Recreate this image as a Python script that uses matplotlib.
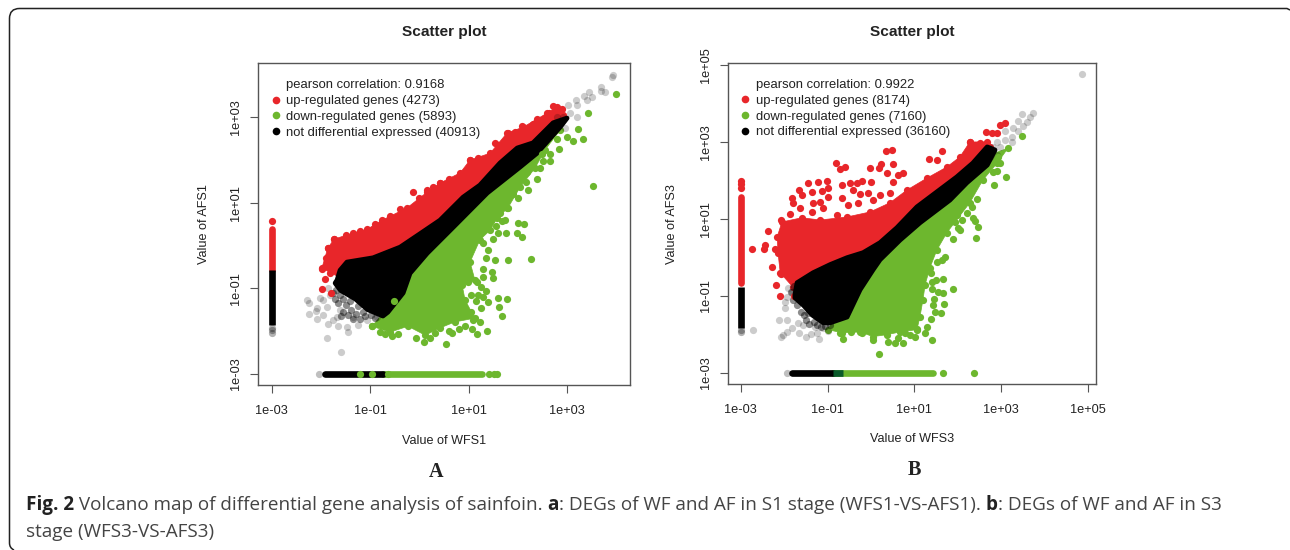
import matplotlib
matplotlib.use('Agg')
import matplotlib.pyplot as plt
import numpy as np
from matplotlib.lines import Line2D
from matplotlib.patches import PathPatch
from matplotlib.path import Path

RED = '#E8262A'
GREEN = '#6DB72E'
W, H = 1290, 550
DOT = 27

# everything below is log10 of the plotted value
# panel A
a_black_hull = [(3.00,2.98),(2.72,2.87),(2.31,2.40),(1.99,2.28),(1.64,1.93),(1.23,1.41),(0.89,1.13),(0.42,0.59),
    (0.01,0.27),(-0.39,-0.04),(-0.94,-0.29),(-1.47,-0.39),(-1.61,-0.58),(-1.67,-0.81),(-1.71,-0.88),(-1.60,-1.05),
    (-1.30,-1.25),(-1.05,-1.50),(-0.74,-1.65),(-0.64,-1.56),(-0.33,-1.11),(-0.19,-0.65),(0.16,-0.18),(0.69,0.43),
    (1.38,1.23),(2.05,1.84),(2.39,2.16),(2.86,2.77)]
a_red_hull = [(-1.98,-0.53),(-1.86,-0.06),(-1.73,0.15),(-1.35,0.29),(-1.06,0.38),(-0.76,0.59),(-0.25,0.88),(0.16,1.25),
    (0.42,1.46),(0.83,1.70),(1.03,2.00),(1.44,2.16),(1.78,2.63),(2.11,2.77),(2.60,3.10),(2.80,3.24),(2.92,3.05),
    (1.5,1.5),(0.0,0.0),(-1.0,-0.6),(-1.7,-0.7)]
a_green_hull = [(-0.96,-1.89),(-0.60,-2.03),(-0.23,-1.89),(0.12,-2.10),(0.42,-1.93),(0.72,-1.79),(1.13,-1.70),(0.93,-1.28),
    (0.87,-0.93),(1.13,-0.81),(1.03,-0.39),(1.23,0.13),(1.44,0.36),(1.58,0.64),(1.80,0.88),(2.05,1.37),(2.35,1.81),
    (2.55,2.23),(2.86,2.70),(2.0,2.0),(0.5,0.5),(-0.2,-0.6),(-0.6,-1.4)]
a_red_pts = [(-0.13,1.25),(0.16,1.30),(0.28,1.37),(0.42,1.46),(-1.86,-0.06),(-1.73,0.15),(-1.98,-0.55),(-1.92,-0.78),
    (-1.81,-0.64),(-1.98,-1.02),(-1.79,-1.11),(-1.04,-0.39),(-0.94,-0.37),(2.72,3.26),(2.90,3.19),(2.64,3.10),
    (2.39,2.96),(2.09,2.80),(2.25,2.70),(2.55,2.98),(1.80,2.63),(1.54,2.40),(1.03,2.00),(-1.5,0.25),(-1.2,0.35),
    (-0.9,0.5),(-0.6,0.7),(-0.4,0.85),(0.0,1.1),(0.6,1.55),(1.2,2.05),(1.6,2.35),(1.95,2.65),(2.3,2.85),(-1.9,-0.3)]
a_green_pts = [(-0.96,-1.89),(-0.80,-2.03),(-0.70,-2.07),(-0.55,-2.12),(-0.43,-2.07),(-0.07,-2.17),(0.10,-2.26),(0.22,-2.17),
    (0.32,-2.05),(0.54,-2.31),(0.66,-2.05),(0.93,-1.89),(1.07,-1.96),(1.17,-2.07),(1.38,-2.00),(1.23,-1.79),(1.68,-1.65),
    (1.62,-1.44),(1.25,-1.47),(1.40,-1.33),(1.60,-1.23),(1.78,-1.25),(1.36,-1.07),(1.25,-0.97),(1.50,-0.76),(1.29,-0.74),
    (1.48,-0.62),(1.54,-0.34),(1.80,-0.34),(2.27,-0.32),(1.76,0.29),(1.99,0.29),(2.09,0.20),(2.00,0.52),(2.13,0.50),
    (1.17,-0.86),(0.99,-0.86),(1.64,0.76),(1.78,0.88),(1.68,0.57),(2.39,1.56),(2.17,1.48),(2.19,1.72),(2.45,1.81),
    (2.51,1.98),(2.66,1.98),(2.66,2.14),(2.84,2.26),(2.49,2.14),(3.12,2.44),(3.33,2.49),(3.23,2.73),(3.00,2.54),
    (2.80,2.49),(3.43,3.10),(3.53,1.39),(4.00,3.55),(-0.51,-1.30),(1.05,-1.55),(1.15,-1.3),(1.2,-1.15),(1.05,-1.15),
    (1.3,-1.2),(1.3,-0.55),(1.35,-0.3),(1.4,-0.1),(1.3,0.05),(1.5,0.15),(1.55,0.45),(1.45,0.6),(1.7,1.05),(1.9,1.2),
    (2.0,1.1),(1.85,1.35),(2.2,1.3),(1.75,0.6),(1.6,0.3),(1.1,-1.75),(0.8,-1.95),(0.6,-2.0)]
a_grey_pts = [(-2.28,-1.28),(-2.24,-1.35),(-2.08,-1.47),(-2.10,-1.54),(-2.24,-1.61),(-2.08,-1.72),(-1.88,-2.17),(-1.59,-2.50),
    (-1.86,-1.84),(-1.65,-1.89),(-1.45,-2.03),(-1.47,-1.91),(-1.25,-1.86),(-1.96,-1.63),(-1.75,-1.75),(-2.02,-1.23),
    (-1.96,-1.28),(-1.86,-1.00),(-1.67,-1.68),(-1.35,-1.68),(-1.06,-1.75),(-0.86,-1.68),(-1.88,-1.44),(-1.61,-1.51),
    (-1.81,-1.16),(3.94,3.99),(3.92,3.94),(3.69,3.71),(3.77,3.59),(3.69,3.62),(3.45,3.59),(3.35,3.50),(3.51,3.48),
    (3.41,3.41),(3.18,3.41),(3.21,3.29),(3.02,3.29),(3.21,3.01),(2.92,3.01),(3.06,3.10),(2.80,3.01),(2.96,2.76)]
a_dark_pts = [(-1.70,-1.05),(-1.62,-1.15),(-1.55,-1.25),(-1.72,-1.25),(-1.65,-1.35),(-1.50,-1.40),(-1.40,-1.30),(-1.38,-1.50),
    (-1.25,-1.42),(-1.28,-1.60),(-1.15,-1.55),(-1.10,-1.65),(-0.98,-1.62),(-0.90,-1.70),(-1.55,-1.55),(-1.45,-1.62),
    (-1.75,-1.12),(-1.20,-1.72),(-1.35,-1.72),(-1.60,-1.65)]
a_red_strip = (-0.58,0.38)
a_red_strip_pts = [0.57]
a_black_strip = (-0.58,-1.86)
a_black_strip_fade = [-1.92,-1.98,-2.05]
a_bottom_black = (-1.92,-0.74)
a_bottom_teal = (-0.74,-0.74)
a_bottom_grey = [-2.04]
a_bottom_green = (-0.74,1.27)
a_bottom_green_pts = [-1.21,-0.96,-0.64,1.42,1.52,1.58]

# panel B
b_black_hull = [(2.68,2.87),(2.35,2.45),(1.98,2.09),(1.52,1.70),(1.06,1.31),(0.60,0.77),(0.21,0.38),(-0.18,0.12),
    (-0.55,-0.01),(-0.94,-0.19),(-1.33,-0.40),(-1.70,-0.66),(-1.75,-0.97),(-1.75,-1.05),(-1.55,-1.25),(-1.35,-1.50),
    (-1.10,-1.70),(-0.94,-1.70),(-0.55,-1.55),(-0.25,-0.84),(0.05,-0.32),(0.21,-0.06),(0.67,0.45),(1.13,0.90),(1.82,1.49),
    (2.21,1.94),(2.68,2.40),(2.86,2.79)]
b_red_hull = [(-1.80,-0.77),(-2.09,-0.40),(-2.14,0.12),(-2.16,0.53),(-2.05,0.92),(-1.59,1.03),(-1.17,0.97),(-0.55,1.05),
    (-0.02,1.18),(0.44,1.42),(0.83,1.75),(1.29,2.06),(1.75,2.35),(2.05,2.61),(2.28,3.00),(2.68,3.00),(2.74,2.87),
    (2.0,1.9),(0.3,0.2),(-1.0,-0.5),(-1.6,-0.9)]
b_green_hull = [(-0.99,-1.88),(-0.67,-1.96),(-0.25,-1.94),(0.05,-2.06),(0.37,-2.01),(0.67,-1.94),(1.06,-1.88),(1.13,-1.55),
    (1.20,-1.10),(1.25,-0.71),(1.36,-0.27),(1.52,0.19),(1.75,0.64),(1.94,0.92),(2.28,1.42),(2.58,2.01),(2.91,2.45),
    (3.16,2.84),(2.6,2.6),(1.0,1.0),(0.2,0.1),(-0.3,-0.7),(-0.8,-1.5)]
b_red_pts = [(0.35,2.77),(0.49,2.79),(1.64,2.77),(-0.80,2.45),(-0.71,2.30),(-0.60,2.35),(-0.02,2.32),(0.23,2.43),(0.19,2.32),
    (0.51,2.43),(0.37,2.19),(0.74,2.19),(0.62,2.14),(1.34,2.56),(1.52,2.53),(0.51,1.96),(-1.45,1.94),(-1.22,1.96),
    (-1.01,1.99),(-1.66,1.75),(-1.36,1.70),(-1.13,1.73),(-0.99,1.81),(-0.67,1.88),(-0.48,1.94),(-0.32,1.94),(-0.21,1.99),
    (0.00,1.96),(-0.07,1.68),(-0.25,1.65),(-0.41,1.75),(0.21,1.62),(0.44,1.68),(-1.82,1.55),(-1.59,1.62),(-1.79,1.42),
    (-1.33,1.42),(-1.17,1.44),(-0.99,1.57),(-0.67,1.55),(-0.53,1.36),(0.05,1.49),(-0.30,1.42),(-1.63,1.29),(-1.86,1.13),
    (-1.36,1.18),(-1.10,1.29),(-0.78,1.10),(-2.07,0.97),(-2.37,0.69),(-2.44,0.32),(-2.74,0.22),(-2.46,0.22),(-2.21,0.22),
    (-2.28,-0.25),(-2.07,-0.43),(-2.19,-0.71),(-2.09,-1.00),(-1.77,-1.00),(-1.27,-0.53),(-0.78,-0.22),(2.97,3.44),
    (3.09,3.49),(2.65,3.26),(2.79,3.23),(2.91,3.23),(2.28,3.00),(2.51,2.97)]
b_green_pts = [(-0.71,-1.96),(-0.64,-2.12),(-0.46,-1.94),(-0.21,-1.96),(0.05,-2.14),(0.19,-2.51),(0.39,-2.19),(0.55,-2.22),
    (0.74,-2.22),(0.62,-2.09),(0.79,-1.96),(0.90,-2.01),(1.02,-2.06),(1.06,-1.86),(1.25,-1.96),(1.29,-1.81),(1.41,-2.14),
    (1.39,-1.60),(1.62,-1.44),(1.48,-1.42),(1.43,-1.23),(1.68,-1.21),(1.45,-1.08),(1.66,-0.92),(1.55,-0.90),(1.41,-0.82),
    (1.89,-0.82),(1.66,-0.56),(1.41,-0.64),(1.50,-0.58),(1.39,-0.40),(1.71,0.01),(1.64,-0.06),(1.52,-0.12),(1.89,0.48),
    (2.42,0.51),(2.05,0.71),(2.47,0.79),(2.40,0.95),(2.10,0.97),(2.35,1.03),(2.00,0.77),(1.98,1.10),(2.21,1.16),
    (2.33,1.31),(2.44,1.52),(2.84,1.88),(3.11,2.09),(2.91,2.25),(2.81,2.22),(2.97,2.45),(2.93,2.61),(3.48,3.16)]
b_grey_pts = [(4.86,4.77),(3.48,3.73),(3.73,3.75),(3.67,3.65),(3.60,3.52),(3.39,3.55),(3.50,3.42),(3.27,3.36),(3.09,3.29),
    (3.39,3.29),(3.25,3.13),(3.09,3.05),(2.91,3.00),(3.25,3.00),(2.97,2.87),(2.81,2.87),(2.91,2.66),(2.74,2.61),
    (-2.12,-1.62),(-1.93,-1.62),(-2.03,-2.01),(-1.93,-1.94),(-1.82,-1.83),(-2.07,-2.06),(-1.66,-1.96),(-1.50,-2.06),
    (-1.38,-1.99),(-1.24,-1.96),(-1.20,-2.12),(-0.99,-1.91),(-1.98,-1.31),(-1.93,-1.03),(-1.91,-0.79),(-1.82,-0.90),
    (-1.98,-1.16),(-1.68,-1.70),(-1.29,-1.81),(-1.10,-1.83),(-1.56,-1.75),(-2.72,-1.88)]
b_dark_pts = [(-1.70,-1.25),(-1.62,-1.42),(-1.55,-1.50),(-1.50,-1.62),(-1.42,-1.72),(-1.30,-1.68),(-1.25,-1.75),(-1.45,-1.45),
    (-1.15,-1.80),(-1.05,-1.78),(-0.95,-1.75),(-1.80,-1.10),(-1.85,-0.90),(-1.78,-0.75)]
b_red_strip = (-0.66,1.57)
b_red_strip_pts = [1.99,1.91,1.81]
b_black_strip = (-0.77,-1.83)
b_black_strip_fade = [-1.88,-1.93]
b_bottom_black = (-1.82,-0.87)
b_bottom_teal = (-0.87,-0.64)
b_bottom_grey = [-1.93]
b_bottom_green = (-0.87,1.43)
b_bottom_green_pts = [1.66,2.38]

a_xticks = [-3, -1, 1, 3]
a_yticks = [-3, -1, 1, 3]
b_xticks = [-3, -1, 1, 3, 5]
b_yticks = [-3, -1, 1, 3, 5]
a_legend = ['pearson correlation: 0.9168', 'up-regulated genes (4273)', 'down-regulated genes (5893)', 'not differential expressed (40913)']
b_legend = ['pearson correlation: 0.9922', 'up-regulated genes (8174)', 'down-regulated genes (7160)', 'not differential expressed (36160)']

plt.rcParams['font.family'] = ['Liberation Sans', 'DejaVu Sans']
fig = plt.figure(figsize=(12.9, 5.5), dpi=100)


def rect(x0, x1, top, bottom):
    return [x0 / W, 1 - bottom / H, (x1 - x0) / W, (bottom - top) / H]


def lab(v):
    return '1e%+03d' % v


def xy(pts):
    p = np.array(pts, dtype=float)
    return 10 ** p[:, 0], 10 ** p[:, 1]


def dots(ax, pts, color, alpha=1.0, z=3):
    x, y = xy(pts)
    ax.scatter(x, y, s=DOT, c=color, alpha=alpha, linewidths=0, zorder=z)


def panel(ax, xlim, ylim, xticks, yticks, red_hull, green_hull, black_hull, red_pts, green_pts, grey_pts, dark_pts,
          red_strip, red_strip_pts, black_strip, black_fade, bot_black, bot_teal, bot_grey, bot_green, bot_green_pts, legend_txt):
    ax.set_xscale('log')
    ax.set_yscale('log')
    ax.set_xlim(10 ** xlim[0], 10 ** xlim[1])
    ax.set_ylim(10 ** ylim[0], 10 ** ylim[1])
    ax.fill(*xy(red_hull), color=RED, lw=0.5, zorder=2)
    ax.fill(*xy(green_hull), color=GREEN, lw=0.5, zorder=2)
    dots(ax, red_hull[:-4], RED, z=2)
    dots(ax, green_hull[:-4], GREEN, z=2)
    dots(ax, grey_pts, 'k', alpha=0.2, z=3)
    dots(ax, dark_pts, 'k', alpha=0.45, z=3)
    dots(ax, red_pts, RED, z=3)
    # stroke keeps the dense band as wide as the dots make it, without beads
    ax.fill(*xy(black_hull), color='k', lw=3.5, joinstyle='round', zorder=4)
    dots(ax, green_pts, GREEN, z=5)
    # the two strips of genes that are zero on one side
    ax.plot([1e-3, 1e-3], 10 ** np.array(red_strip), color=RED, lw=4.8, solid_capstyle='round', zorder=3)
    ax.scatter([1e-3] * len(red_strip_pts), 10 ** np.array(red_strip_pts), s=DOT, c=RED, linewidths=0, zorder=3)
    ax.plot([1e-3, 1e-3], 10 ** np.array(black_strip), color='k', lw=4.8, solid_capstyle='butt', zorder=4)
    ax.scatter([1e-3] * len(black_fade), 10 ** np.array(black_fade), s=DOT, c='k', alpha=0.3, linewidths=0, zorder=4)
    ax.plot(10 ** np.array(bot_green), [1e-3, 1e-3], color=GREEN, lw=4.8, solid_capstyle='round', zorder=3)
    ax.plot(10 ** np.array(bot_black), [1e-3, 1e-3], color='k', lw=4.8, solid_capstyle='round', zorder=4)
    ax.plot(10 ** np.array(bot_teal), [1e-3, 1e-3], color='#0a5a2a', lw=4.8, solid_capstyle='butt', zorder=4)
    ax.scatter(10 ** np.array(bot_grey), [1e-3] * len(bot_grey), s=DOT, c='k', alpha=0.25, linewidths=0, zorder=3)
    ax.scatter(10 ** np.array(bot_green_pts), [1e-3] * len(bot_green_pts), s=DOT, c=GREEN, linewidths=0, zorder=5)
    ax.set_xticks([10.0 ** v for v in xticks])
    ax.set_xticklabels([lab(v) for v in xticks], fontsize=9.2, color='#222222')
    ax.set_yticks([10.0 ** v for v in yticks])
    ax.set_yticklabels([lab(v) for v in yticks], fontsize=9.2, color='#222222', rotation=90, va='center')
    ax.minorticks_off()
    ax.tick_params(axis='both', length=6, width=0.8, color='#555555')
    ax.tick_params(axis='x', pad=8.5)
    ax.tick_params(axis='y', pad=5.5)
    for s in ax.spines.values():
        s.set_color('#555555')
        s.set_linewidth(1.0)
    handles = [Line2D([], [], ls='', marker='o', color=c, ms=5.5, mew=0) for c in ('none', RED, GREEN, 'k')]
    ax.legend(handles, legend_txt, loc='upper left', bbox_to_anchor=(0.0, 0.972), frameon=False, fontsize=9.4,
              labelcolor='#222222', handletextpad=0.0, labelspacing=0.28, handlelength=1.6, borderpad=0, borderaxespad=0.55)


ax1 = fig.add_axes(rect(258, 630, 63, 385))
panel(ax1, (-3.278, 4.28), (-3.265, 4.27), a_xticks, a_yticks, a_red_hull, a_green_hull, a_black_hull, a_red_pts,
      a_green_pts, a_grey_pts, a_dark_pts, a_red_strip, a_red_strip_pts, a_black_strip, a_black_strip_fade, a_bottom_black,
      a_bottom_teal, a_bottom_grey, a_bottom_green, a_bottom_green_pts, a_legend)
ax2 = fig.add_axes(rect(727.7, 1095.7, 62.7, 384.3))
panel(ax2, (-3.3, 5.18), (-3.3, 5.06), b_xticks, b_yticks, b_red_hull, b_green_hull, b_black_hull, b_red_pts,
      b_green_pts, b_grey_pts, b_dark_pts, b_red_strip, b_red_strip_pts, b_black_strip, b_black_strip_fade, b_bottom_black,
      b_bottom_teal, b_bottom_grey, b_bottom_green, b_bottom_green_pts, b_legend)


def put(x, y, s, **kw):
    return fig.text(x / W, 1 - y / H, s, **kw)


c = dict(ha='center', va='center', color='#222222')
put(444, 32, 'Scatter plot', fontsize=11.1, fontweight='bold', **c)
put(912, 32, 'Scatter plot', fontsize=11.1, fontweight='bold', **c)
put(444, 441, 'Value of WFS1', fontsize=9.1, **c)
put(912, 439, 'Value of WFS3', fontsize=9.1, **c)
put(204, 224, 'Value of AFS1', fontsize=9.1, rotation=90, **c)
put(672, 224, 'Value of AFS3', fontsize=9.1, rotation=90, **c)
put(436, 472, 'A', fontsize=14.5, fontweight='bold', family='Liberation Serif', ha='center', va='center', color='#222222')
put(914, 470, 'B', fontsize=14.5, fontweight='bold', family='Liberation Serif', ha='center', va='center', color='#222222')

# caption, bold and plain runs placed one after the other
cap = [('Fig. 2', True), (' Volcano map of differential gene analysis of sainfoin. ', False), ('a', True),
       (': DEGs of WF and AF in S1 stage (WFS1-VS-AFS1). ', False), ('b', True), (': DEGs of WF and AF in S3', False)]
rend = fig.canvas.get_renderer()
x = 26.0
for s, bold in cap:
    t = put(x, 510, s.replace(' ', '\u00a0'), fontsize=13.55, family='Open Sans', fontweight='bold' if bold else 'normal',
            color='#222222' if bold else '#444444', va='baseline')
    x = t.get_window_extent(rend).x1
put(26, 537, 'stage (WFS3-VS-AFS3)', fontsize=13.55, family='Open Sans', color='#444444', va='baseline')

# box of the page around the figure, open at the bottom and on the right
r = 10
verts = [(1290, 10), (1287, 8.5), (9.5 + r, 8.5), (9.5, 8.5), (9.5, 8.5 + r), (9.5, 543), (9.5, 548), (14, 550)]
codes = [Path.MOVETO, Path.LINETO, Path.LINETO, Path.CURVE3, Path.CURVE3, Path.LINETO, Path.CURVE3, Path.CURVE3]
fv = [(a / W, 1 - b / H) for a, b in verts]
fig.add_artist(PathPatch(Path(fv, codes), fill=False, ec='#222222', lw=1.1, transform=fig.transFigure))

fig.savefig('out.png', dpi=100)
